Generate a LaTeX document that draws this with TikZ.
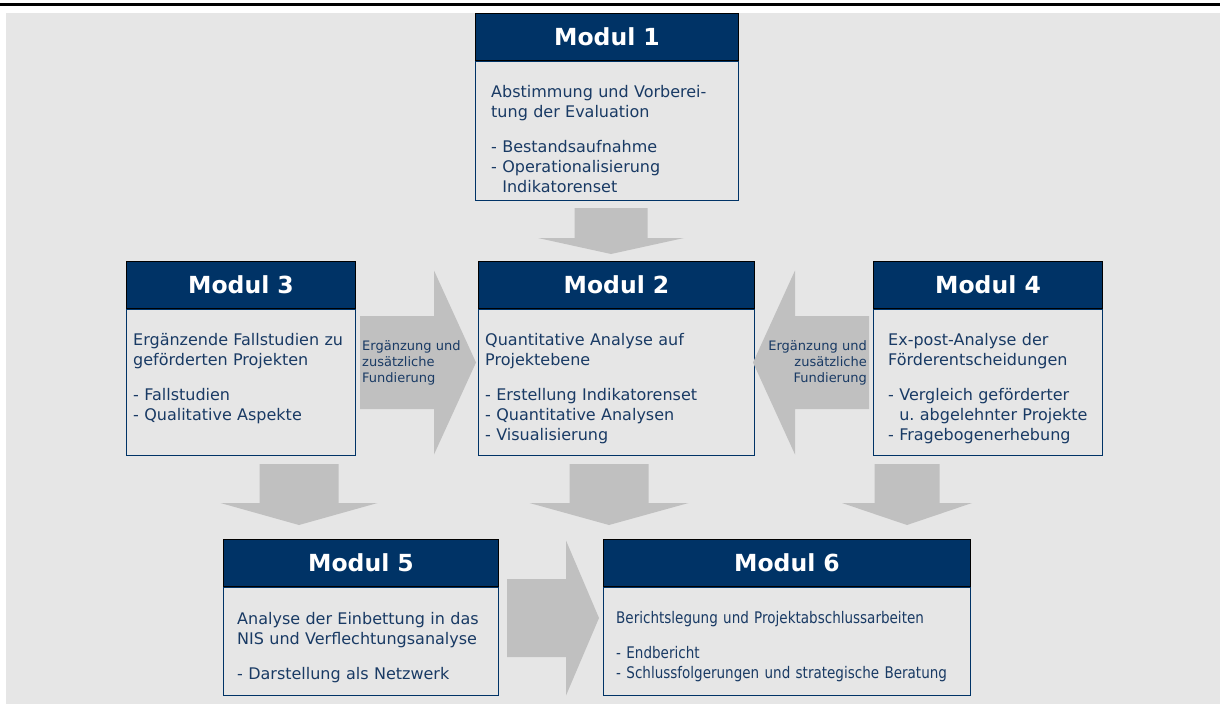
\documentclass[tikz,border=0pt]{standalone}
\usepackage{fontspec}
\setmainfont{DejaVu Sans}
\newfontfamily\narrowfont{DejaVu Sans}[FakeStretch=0.845]
\usetikzlibrary{positioning, calc}

\definecolor{navy}{RGB}{0,51,102}
\definecolor{textblue}{RGB}{25,58,100}
\definecolor{bggray}{RGB}{230,230,230}
\definecolor{arrowgray}{RGB}{192,192,192}

% fat block arrow: tail, angle, length, head length, shaft half width, head half width
\newcommand{\bigarrow}[6]{%
  \begin{scope}[shift={#1}, rotate=#2]
    \fill[arrowgray] (0,-#5) -- (#3-#4,-#5) -- (#3-#4,-#6) -- (#3,0)
      -- (#3-#4,#6) -- (#3-#4,#5) -- (0,#5) -- cycle;
  \end{scope}}

\tikzset{
  modhead/.style={draw=black, line width=1pt, fill=navy, text=white,
    font=\fontsize{23.5pt}{28pt}\selectfont\bfseries, minimum height=47.5pt, inner sep=0pt},
  modbox/.style={draw=navy, line width=1pt, fill=bggray, anchor=north west, inner sep=0pt},
  modtext/.style={text=textblue, font=\fontsize{16pt}{20pt}\selectfont, align=left,
    text width=400pt, anchor=base west, inner sep=0pt},
  arrowlabel/.style={text=textblue, font=\fontsize{13pt}{16pt}\selectfont, inner sep=0pt,
    text width=110pt},
}

\begin{document}
\begin{tikzpicture}[x=1pt, y=-1pt]
    \useasboundingbox (0,0) rectangle (1220,704);
    % background and rule
    \fill[bggray] (6,13) rectangle (1220,704);
    \draw[line width=2.5pt] (0,4.5) -- (1220,4.5);

    % Boxes
    \node[modbox, minimum width=263pt, minimum height=139pt] (m1box) at (475,61) {};
    \node[modbox, minimum width=229pt, minimum height=146pt] (m3box) at (126,309) {};
    \node[modbox, minimum width=276pt, minimum height=146pt] (m2box) at (478,309) {};
    \node[modbox, minimum width=229pt, minimum height=146pt] (m4box) at (873,309) {};
    \node[modbox, minimum width=275pt, minimum height=108pt] (m5box) at (223,587) {};
    \node[modbox, minimum width=367pt, minimum height=108pt] (m6box) at (603,587) {};

    % Headers
    \node[modhead, minimum width=263pt, above=0pt of m1box.north west, anchor=south west] (m1head) {Modul 1};
    \node[modhead, minimum width=229pt, above=0pt of m3box.north west, anchor=south west] (m3head) {Modul 3};
    \node[modhead, minimum width=276pt, above=0pt of m2box.north west, anchor=south west] (m2head) {Modul 2};
    \node[modhead, minimum width=229pt, above=0pt of m4box.north west, anchor=south west] (m4head) {Modul 4};
    \node[modhead, minimum width=275pt, above=0pt of m5box.north west, anchor=south west] (m5head) {Modul 5};
    \node[modhead, minimum width=367pt, above=0pt of m6box.north west, anchor=south west] (m6head) {Modul 6};

    % Texts
    \node[modtext] (m1text) at ($(m1box.north west)+(16,36)$)
        {Abstimmung und Vorberei-\\tung der Evaluation\\[15pt]
         - Bestandsaufnahme\\- Operationalisierung\\\hphantom{- }Indikatorenset};
    \node[modtext] (m3text) at ($(m3box.north west)+(7,36)$)
        {Ergänzende Fallstudien zu\\geförderten Projekten\\[15pt]
         - Fallstudien\\- Qualitative Aspekte};
    \node[modtext] (m2text) at ($(m2box.north west)+(7,36)$)
        {Quantitative Analyse auf\\Projektebene\\[15pt]
         - Erstellung Indikatorenset\\- Quantitative Analysen\\- Visualisierung};
    \node[modtext] (m4text) at ($(m4box.north west)+(15,36)$)
        {Ex-post-Analyse der\\Förderentscheidungen\\[15pt]
         - Vergleich geförderter\\\hphantom{- }u.\ abgelehnter Projekte\\- Fragebogenerhebung};
    \node[modtext] (m5text) at ($(m5box.north west)+(14,37)$)
        {Analyse der Einbettung in das\\NIS und Verflechtungsanalyse\\[15pt]
         - Darstellung als Netzwerk};
    \node[modtext, font=\fontsize{16pt}{20pt}\selectfont\narrowfont] (m6text) at ($(m6box.north west)+(13,36)$)
        {Berichtslegung und Projektabschlussarbeiten\\[15pt]
         - Endbericht\\- Schlussfolgerungen und strategische Beratung};

    % Arrows
    \bigarrow{($(m1box.south)+(4,7)$)}{-90}{46}{16}{36.5}{73}
    \bigarrow{($(m3box.south)+(58,8)$)}{-90}{61}{22}{39.5}{78.5}
    \bigarrow{($(m2box.south)+(-7.5,8)$)}{-90}{61}{22}{39.5}{79.5}
    \bigarrow{($(m4box.south)+(-81,8)$)}{-90}{61}{22}{32.5}{65}
    \bigarrow{($(m3box.north east)+(4,53.5)$)}{0}{116}{42}{46.5}{92}
    \bigarrow{($(m4box.north west)+(-4,53.5)$)}{180}{116}{42}{46.5}{92}
    \bigarrow{($(m5box.north east)+(8,31)$)}{0}{92}{33}{39}{77.5}

    % Arrow labels
    \node[arrowlabel, align=left, anchor=base west] (lab32) at ($(m3box.north east)+(6,41)$)
        {Ergänzung und\\zusätzliche\\Fundierung};
    \node[arrowlabel, align=right, anchor=base east] (lab42) at ($(m4box.north west)+(-6,41)$)
        {Ergänzung und\\zusätzliche\\Fundierung};
\end{tikzpicture}
\end{document}
